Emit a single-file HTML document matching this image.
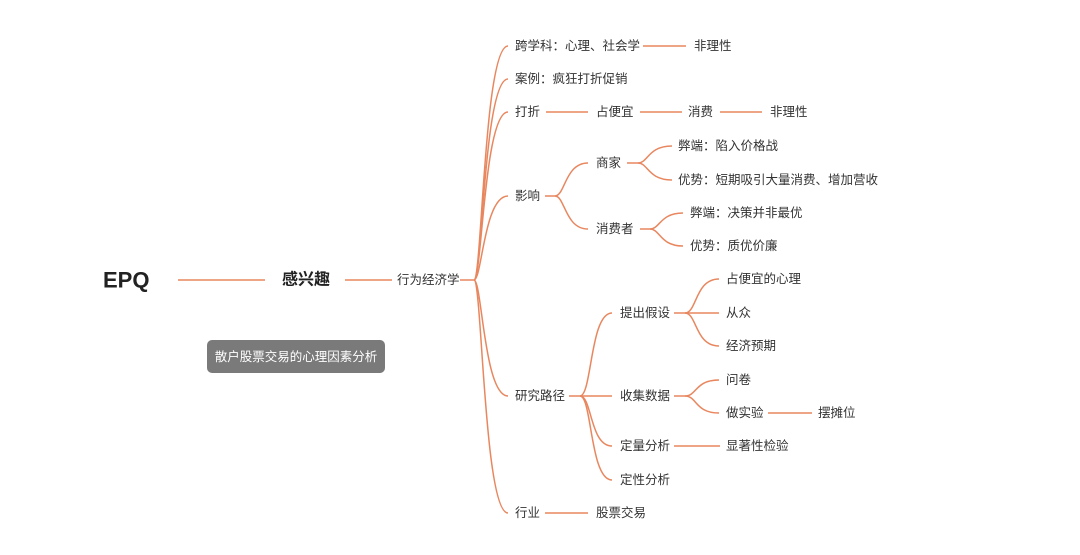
<!DOCTYPE html>
<html><head><meta charset="utf-8"><style>
html,body{margin:0;padding:0;background:#fff;}
svg{display:block;}
text{font-family:"Liberation Sans","Noto Sans CJK SC",sans-serif;fill:#333;font-size:12.5px;dominant-baseline:central;}
path,line{stroke:#e8875f;stroke-width:1.5;fill:none;}
</style></head><body>
<svg width="1080" height="555" viewBox="0 0 1080 555">
<text x="103" y="280" style="font-size:22px;font-weight:bold;fill:#222">EPQ</text>
<line x1="178" y1="280" x2="265" y2="280"/>
<text x="282" y="280" style="font-size:16px;font-weight:bold;fill:#222">感兴趣</text>
<line x1="345" y1="280" x2="392" y2="280"/>
<text x="397" y="280">行为经济学</text>
<line x1="460" y1="280" x2="474" y2="280"/>
<rect x="207" y="340" width="178" height="33" rx="5" fill="#7a7a7a"/>
<text x="296" y="357" text-anchor="middle" style="fill:#fff;font-size:12.5px">散户股票交易的心理因素分析</text>

<!-- trunk -->
<path d="M474,280 C482,280 484,46 508,46"/>
<path d="M474,280 C482,280 484,79 508,79"/>
<path d="M474,280 C482,280 484,112 508,112"/>
<path d="M474,280 C482,280 484,196 508,196"/>
<path d="M474,280 C482,280 484,396 508,396"/>
<path d="M474,280 C482,280 484,513 508,513"/>

<text x="515" y="46">跨学科：心理、社会学</text>
<line x1="643" y1="46" x2="686" y2="46"/>
<text x="694" y="46">非理性</text>
<text x="515" y="79">案例：疯狂打折促销</text>
<text x="515" y="112">打折</text>
<line x1="546" y1="112" x2="588" y2="112"/>
<text x="596" y="112">占便宜</text>
<line x1="640" y1="112" x2="682" y2="112"/>
<text x="688" y="112">消费</text>
<line x1="720" y1="112" x2="762" y2="112"/>
<text x="770" y="112">非理性</text>

<text x="515" y="196">影响</text>
<line x1="545" y1="196" x2="555" y2="196"/>
<path d="M555,196 C565,196 565,163 588,163"/>
<path d="M555,196 C565,196 565,229 588,229"/>
<text x="596" y="163">商家</text>
<line x1="627" y1="163" x2="638" y2="163"/>
<path d="M638,163 C648,163 648,146 672,146"/>
<path d="M638,163 C648,163 648,180 672,180"/>
<text x="678" y="146">弊端：陷入价格战</text>
<text x="678" y="180">优势：短期吸引大量消费、增加营收</text>
<text x="596" y="229">消费者</text>
<line x1="640" y1="229" x2="650" y2="229"/>
<path d="M650,229 C660,229 660,213 683,213"/>
<path d="M650,229 C660,229 660,246 683,246"/>
<text x="690" y="213">弊端：决策并非最优</text>
<text x="690" y="246">优势：质优价廉</text>

<text x="515" y="396">研究路径</text>
<line x1="569" y1="396" x2="580" y2="396"/>
<path d="M580,396 C592,396 590,313 612,313"/>
<line x1="580" y1="396" x2="612" y2="396"/>
<path d="M580,396 C592,396 590,446 612,446"/>
<path d="M580,396 C592,396 590,480 612,480"/>
<text x="620" y="313">提出假设</text>
<text x="620" y="396">收集数据</text>
<text x="620" y="446">定量分析</text>
<text x="620" y="480">定性分析</text>
<line x1="674" y1="313" x2="685" y2="313"/>
<path d="M685,313 C697,313 695,279 719,279"/>
<line x1="685" y1="313" x2="719" y2="313"/>
<path d="M685,313 C697,313 695,346 719,346"/>
<text x="726" y="279">占便宜的心理</text>
<text x="726" y="313">从众</text>
<text x="726" y="346">经济预期</text>
<line x1="674" y1="396" x2="685" y2="396"/>
<path d="M685,396 C697,396 695,380 719,380"/>
<path d="M685,396 C697,396 695,413 719,413"/>
<text x="726" y="380">问卷</text>
<text x="726" y="413">做实验</text>
<line x1="768" y1="413" x2="812" y2="413"/>
<text x="818" y="413">摆摊位</text>
<line x1="674" y1="446" x2="720" y2="446"/>
<text x="726" y="446">显著性检验</text>

<text x="515" y="513">行业</text>
<line x1="545" y1="513" x2="588" y2="513"/>
<text x="596" y="513">股票交易</text>
</svg>
</body></html>
